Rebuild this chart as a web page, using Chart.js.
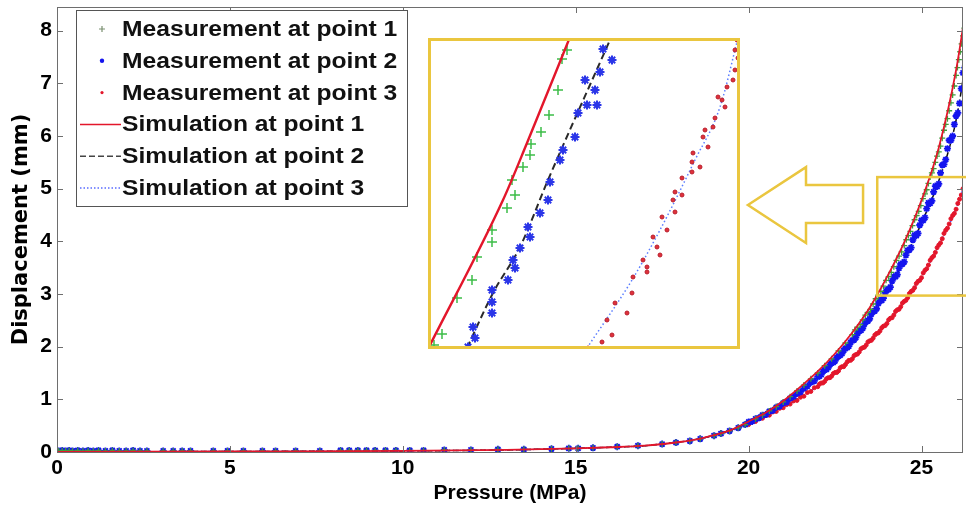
<!DOCTYPE html>
<html>
<head>
<meta charset="utf-8">
<script src="https://cdn.jsdelivr.net/npm/chart.js@4.4.0/dist/chart.umd.min.js"></script>
<style>
html, body { margin: 0; padding: 0; background: #fff; }
#wrap { position: relative; width: 966px; height: 510px; overflow: hidden; }
#main { position: absolute; left: 0; top: 0; }
#zoom { position: absolute; left: 428px; top: 38px; background: #fff; }
</style>
</head>
<body>
<div id="wrap">
  <canvas id="main" width="966" height="510"></canvas>
  <canvas id="zoom" width="312" height="311"></canvas>
</div>
<script>
// axis ticks
var xTicks = [0, 5, 10, 15, 20, 25];
var yTicks = [0, 1, 2, 3, 4, 5, 6, 7, 8];

var seriesNames = ['Measurement at point 1', 'Measurement at point 2', 'Measurement at point 3',
                   'Simulation at point 1', 'Simulation at point 2', 'Simulation at point 3'];

// low pressure part, shared by the three measurements
var lowX = [0.05,0.15,0.25,0.35,0.45,0.6,0.75,0.9,1.05,1.2,1.4,1.6,1.8,2.0,2.2,2.4,2.6,3.07,3.36,3.62,
            3.86,4.52,4.93,5.39,5.94,6.32,6.9,7.6,8.2,8.45,8.7,8.95,9.2,9.5,9.8,10.2,10.6,11.2,11.97,12.75,
            13.5,14.3,14.8,15.07,15.5,16.2,16.8,17.5,17.9,18.3,18.6,19.0,19.2,19.45,19.7,19.9];
var lowY = [0.02,0.03,0.02,0.03,0.02,0.03,0.02,0.03,0.02,0.03,0.02,0.03,0.02,0.02,0.03,0.02,0.02,0.02,0.02,0.02,
            0.02,0.02,0.02,0.02,0.02,0.02,0.02,0.02,0.03,0.03,0.03,0.03,0.03,0.03,0.03,0.03,0.03,0.04,0.04,0.05,
            0.05,0.06,0.07,0.07,0.08,0.1,0.12,0.15,0.18,0.21,0.25,0.31,0.35,0.4,0.46,0.52];

// measurement at point 1 (upper part)
var meas1X = [20.2,20.4,20.6,20.8,21.0,21.2,21.4,21.6,21.8,22.0,22.2,22.4,22.6,22.8,23.0,23.15,23.3,23.45,23.6,23.75,
              23.9,24.05,24.2,24.35,24.5,24.62,24.74,24.86,24.98,25.1,25.2,25.3,25.4,25.5,25.6,25.7,25.8,25.9,26.0,26.08,
              26.16,26.24,26.32,26.4];
var meas1Y = [0.63,0.70,0.78,0.86,0.95,1.05,1.16,1.27,1.39,1.50,1.64,1.77,1.92,2.07,2.23,2.37,2.51,2.65,2.81,2.98,
              3.15,3.33,3.52,3.72,3.92,4.11,4.30,4.49,4.68,4.90,5.10,5.30,5.50,5.70,5.96,6.22,6.48,6.78,7.15,7.45,
              7.75,8.05,8.35,8.60];
var meas1XB = [23.075,23.225,23.375,23.525,23.675,23.825,23.975,24.125,24.275,24.425,24.56,24.68,24.8,24.92,25.04,
               25.15,25.25,25.35,25.45,25.55,25.65,25.75,25.85,25.95,26.04,26.12,26.2,26.28];
var meas1YB = [2.32,2.42,2.60,2.71,2.91,3.05,3.26,3.41,3.64,3.80,4.03,4.19,4.41,4.57,4.81,
               4.98,5.22,5.38,5.62,5.81,6.11,6.33,6.63,6.95,7.30,7.60,7.90,8.20];

// measurements at points 2 and 3 (upper part)
var denseX = [20.0,20.1,20.2,20.3,20.4,20.5,20.6,20.7,20.8,20.9,21.0,21.1,21.2,21.3,21.4,21.5,21.6,21.7,21.8,21.9,
              22.0,22.1,22.2,22.3,22.4,22.5,22.6,22.7,22.8,22.9,23.0,23.1,23.2,23.3,23.4,23.5,23.6,23.7,23.8,23.9,
              24.0,24.1,24.2,24.3,24.4,24.5,24.6,24.7,24.8,24.9,25.0,25.1,25.2,25.3,25.4,25.5,25.6,25.7,25.8,25.9,
              26.0,26.1,26.2,26.3];
var meas2Y = [0.57,0.58,0.63,0.65,0.70,0.71,0.77,0.79,0.85,0.87,0.93,0.95,1.02,1.05,1.11,1.14,1.21,1.25,1.32,1.35,
              1.43,1.47,1.56,1.60,1.69,1.73,1.82,1.87,1.97,2.01,2.12,2.17,2.30,2.35,2.48,2.53,2.67,2.72,2.88,2.92,
              3.08,3.13,3.33,3.37,3.57,3.61,3.83,3.88,4.12,4.15,4.40,4.45,4.73,4.77,5.05,5.09,5.45,5.55,5.92,6.00,
              6.38,6.62,7.20,7.45];
var meas3Y = [0.52,0.57,0.58,0.63,0.64,0.69,0.70,0.76,0.77,0.83,0.84,0.90,0.91,0.97,0.98,1.04,1.06,1.13,1.15,1.22,
              1.24,1.31,1.34,1.41,1.44,1.51,1.54,1.62,1.66,1.74,1.77,1.85,1.90,1.98,2.03,2.11,2.16,2.25,2.30,2.39,
              2.44,2.54,2.60,2.70,2.76,2.86,2.93,3.05,3.12,3.24,3.31,3.45,3.55,3.69,3.79,3.93,4.05,4.21,4.33,4.49,
              4.61,4.80,5.00,5.17];
var midX = [22.05,22.15,22.25,22.35,22.45,22.55,22.65,22.75,22.85,22.95,23.05,23.15,23.25,23.35,23.45,23.55,23.65,23.75,
            23.85,23.95,24.05,24.15,24.25,24.35,24.45,24.55,24.65,24.75,24.85,24.95,25.05,25.15,25.25,25.35,25.45,25.55,
            25.65,25.75,25.85,25.95,26.05,26.15,26.25];
var meas2YB = [1.44,1.53,1.57,1.66,1.70,1.79,1.84,1.93,1.98,2.08,2.13,2.25,2.31,2.43,2.49,2.62,2.68,2.82,
               2.88,3.02,3.09,3.25,3.33,3.49,3.57,3.74,3.84,4.03,4.11,4.31,4.40,4.62,4.72,4.94,5.04,5.30,
               5.46,5.76,5.92,6.22,6.44,6.90,7.30];
var meas3YB = [1.29,1.31,1.39,1.41,1.49,1.51,1.60,1.62,1.71,1.74,1.83,1.86,1.96,1.99,2.09,2.12,2.22,2.26,
               2.36,2.40,2.51,2.55,2.67,2.71,2.83,2.88,3.01,3.07,3.20,3.26,3.40,3.48,3.64,3.72,3.88,3.97,
               4.15,4.25,4.43,4.53,4.72,4.88,5.10];

// simulations
var simX  = [0,5,10,13,15,16,17,18,18.5,19,19.5,20,20.5,21,21.5,22,22.5,23,23.5,24,24.5,25,25.5,26,26.3,26.6];
var sim1Y = [0,0.01,0.02,0.04,0.07,0.09,0.12,0.19,0.24,0.32,0.42,0.58,0.75,0.97,1.24,1.53,1.87,2.27,2.74,3.32,3.98,4.78,5.78,7.25,8.5,9.8];
var sim2Y = [0,0.01,0.02,0.04,0.07,0.09,0.12,0.19,0.24,0.32,0.42,0.56,0.72,0.92,1.15,1.42,1.74,2.1,2.55,3.05,3.65,4.35,5.15,6.3,7.5,8.8];
var sim3Y = [0,0.01,0.02,0.04,0.07,0.09,0.12,0.19,0.24,0.31,0.40,0.53,0.68,0.85,1.03,1.25,1.5,1.78,2.1,2.45,2.85,3.32,3.92,4.62,5.2,5.8];

// magnified view
var inset1X = [24.695,24.67,24.65,24.605,24.565,24.515,24.51,24.475,24.42,24.435,24.395,24.32,24.32,24.245,24.22,24.145,24.07,24.03];
var inset1Y = [4.196,4.16,4.036,3.936,3.868,3.82,3.776,3.728,3.676,3.616,3.564,3.476,3.428,3.368,3.276,3.204,3.06,3.016];
var inset2X = [24.875,24.92,24.86,24.785,24.835,24.795,24.845,24.75,24.735,24.675,24.66,24.61,24.6,24.56,24.5,24.51,24.46,24.425,24.435,24.4,24.32,24.32,24.32,24.225,24.235,24.2];
var inset2Y = [4.2,4.156,4.108,4.076,4.036,3.976,3.976,3.944,3.848,3.796,3.756,3.668,3.596,3.544,3.488,3.448,3.404,3.356,3.324,3.276,3.236,3.188,3.144,3.088,3.044,3.008];
var inset3X = [25.545,25.535,25.55,25.535,25.525,25.495,25.45,25.47,25.485,25.435,25.425,25.385,25.375,25.4,25.325,25.32,25.36,25.32,25.27,25.235,
               25.27,25.225,25.235,25.17,25.195,25.125,25.145,25.16,25.075,25.095,25.095,25.025,25.02,24.935,24.995,24.895,24.92,24.87,24.8];
var inset3Y = [4.236,4.196,4.164,4.116,4.076,4.048,4.008,3.996,3.968,3.924,3.888,3.876,3.848,3.808,3.784,3.748,3.728,3.708,3.684,3.628,
               3.616,3.596,3.548,3.528,3.476,3.448,3.408,3.376,3.356,3.328,3.308,3.288,3.224,3.184,3.144,3.116,3.056,3.028,3.004];
var insetSim1X = [24.0,24.375,24.495,24.71];
var insetSim1Y = [3.0,3.596,3.824,4.248];
var insetSim2X = [24.195,24.325,24.46,24.6,24.91];
var insetSim2Y = [3.004,3.224,3.408,3.676,4.236];
var insetSim3X = [24.795,25.02,25.16,25.335,25.46,25.55];
var insetSim3Y = [3.004,3.276,3.476,3.756,3.968,4.244];

function pts(xs, ys) {
    return xs.map(function (x, i) { return {x: x, y: ys[i]}; });
}

var GREEN = '#3f9e3c', BLUE = '#1414ee', RED = '#e3162b', YELLOW = '#eac63f';
var tickFont = {family: '"Liberation Sans", Arial, sans-serif', size: 21, weight: 'bold'};

var frame = {
    id: 'frame',
    afterDraw: function (chart) {
        var ctx = chart.ctx, a = chart.chartArea, sx = chart.scales.x, sy = chart.scales.y;
        ctx.save();
        // axes box + inward ticks
        ctx.strokeStyle = '#6e6e6e';
        ctx.lineWidth = 1;
        ctx.strokeRect(a.left + 0.5, a.top + 0.5, a.right - a.left - 1, a.bottom - a.top);
        ctx.beginPath();
        xTicks.forEach(function (v) {
            var p = Math.round(sx.getPixelForValue(v)) + 0.5;
            ctx.moveTo(p, a.bottom); ctx.lineTo(p, a.bottom - 6);
            ctx.moveTo(p, a.top); ctx.lineTo(p, a.top + 6);
        });
        yTicks.forEach(function (v) {
            var p = Math.round(sy.getPixelForValue(v)) + 0.5;
            ctx.moveTo(a.left, p); ctx.lineTo(a.left + 6, p);
            ctx.moveTo(a.right, p); ctx.lineTo(a.right - 6, p);
        });
        ctx.stroke();

        // zoomed region and arrow
        ctx.strokeStyle = YELLOW;
        ctx.lineWidth = 2.5;
        var bx = sx.getPixelForValue(23.72), by = sy.getPixelForValue(5.22);
        ctx.strokeRect(bx, by, sx.getPixelForValue(27.5) - bx, sy.getPixelForValue(2.97) - by);
        var arrow = [[19.98, 4.69], [21.66, 5.41], [21.66, 5.07], [23.31, 5.07],
                     [23.31, 4.35], [21.66, 4.35], [21.66, 3.97]];
        ctx.beginPath();
        arrow.forEach(function (p, i) {
            var X = sx.getPixelForValue(p[0]), Y = sy.getPixelForValue(p[1]);
            if (i === 0) ctx.moveTo(X, Y); else ctx.lineTo(X, Y);
        });
        ctx.closePath();
        ctx.stroke();

        // legend
        var lx = a.left + 19, ly = a.top + 3, lw = 331, lh = 196;
        ctx.fillStyle = '#fff';
        ctx.fillRect(lx, ly, lw, lh);
        ctx.strokeStyle = '#555';
        ctx.lineWidth = 1;
        ctx.strokeRect(lx + 0.5, ly + 0.5, lw, lh);
        ctx.font = 'bold 22px "Liberation Sans", Arial, sans-serif';
        ctx.textBaseline = 'middle';
        seriesNames.forEach(function (name, i) {
            var cy = ly + 19 + i * 31.8, mx = lx + 26;
            ctx.save();
            if (i === 0) {
                ctx.strokeStyle = '#7a8f70'; ctx.lineWidth = 1.2;
                ctx.beginPath(); ctx.moveTo(mx - 3, cy); ctx.lineTo(mx + 3, cy);
                ctx.moveTo(mx, cy - 3); ctx.lineTo(mx, cy + 3); ctx.stroke();
            } else if (i === 1) {
                ctx.fillStyle = BLUE;
                ctx.beginPath(); ctx.arc(mx, cy, 2.2, 0, Math.PI * 2); ctx.fill();
            } else if (i === 2) {
                ctx.fillStyle = RED;
                ctx.beginPath(); ctx.arc(mx, cy, 1.6, 0, Math.PI * 2); ctx.fill();
            } else {
                ctx.lineWidth = 1.5;
                if (i === 3) { ctx.strokeStyle = RED; }
                if (i === 4) { ctx.strokeStyle = '#444'; ctx.setLineDash([6, 3]); }
                if (i === 5) { ctx.strokeStyle = '#5a6cff'; ctx.setLineDash([1.5, 2]); }
                ctx.beginPath(); ctx.moveTo(lx + 4, cy); ctx.lineTo(lx + 45, cy); ctx.stroke();
            }
            ctx.restore();
            ctx.save();
            ctx.translate(lx + 46, cy + 1);
            ctx.scale(1.12, 1);
            ctx.fillStyle = '#111';
            ctx.fillText(name, 0, 0);
            ctx.restore();
        });
        ctx.restore();
    }
};

new Chart(document.getElementById('main').getContext('2d'), {
    type: 'scatter',
    data: {
        datasets: [
            {label: seriesNames[3], data: pts(simX, sim1Y), showLine: true, borderColor: RED, borderWidth: 1.8,
             pointRadius: 0, cubicInterpolationMode: 'monotone', order: 0},
            {label: seriesNames[0], data: pts(lowX, lowY).concat(pts(meas1X, meas1Y), pts(meas1XB, meas1YB)),
             pointStyle: 'cross', pointRadius: 3, borderColor: GREEN, borderWidth: 1.3, order: 1},
            {label: seriesNames[1], data: pts(lowX, lowY).concat(pts(denseX, meas2Y), pts(midX, meas2YB)),
             pointStyle: 'star', pointRadius: 3.5, borderColor: BLUE, backgroundColor: BLUE, borderWidth: 1.8, order: 2},
            {label: seriesNames[4], data: pts(simX, sim2Y), showLine: true, borderColor: '#111', borderWidth: 1.5,
             borderDash: [6, 3], pointRadius: 0, cubicInterpolationMode: 'monotone', order: 3},
            {label: seriesNames[2], data: pts(lowX, lowY).concat(pts(denseX, meas3Y), pts(midX, meas3YB)),
             pointStyle: 'circle', pointRadius: 2, borderColor: RED, backgroundColor: RED, borderWidth: 1, order: 4},
            {label: seriesNames[5], data: pts(simX, sim3Y), showLine: true, borderColor: '#4a5cff', borderWidth: 1.5,
             borderDash: [1.5, 2], pointRadius: 0, cubicInterpolationMode: 'monotone', order: 5}
        ]
    },
    options: {
        responsive: false,
        animation: false,
        layout: {autoPadding: false, padding: {top: 7, right: 3, left: 0, bottom: 0}},
        plugins: {legend: {display: false}, tooltip: {enabled: false}},
        scales: {
            x: {
                type: 'linear', min: 0, max: 26.2,
                grid: {display: false, drawTicks: false},
                border: {display: false},
                ticks: {color: '#000', font: tickFont, padding: 4, maxRotation: 0},
                afterBuildTicks: function (s) { s.ticks = xTicks.map(function (v) { return {value: v}; }); },
                afterFit: function (s) { s.height = 58; s.paddingLeft = 0; s.paddingRight = 0; },
                title: {display: true, text: 'Pressure (MPa)', color: '#000', font: tickFont,
                        padding: {top: 0, bottom: 4}}
            },
            y: {
                type: 'linear', min: 0, max: 8.45,
                grid: {display: false, drawTicks: false},
                border: {display: false},
                ticks: {color: '#000', font: tickFont, padding: 5},
                afterBuildTicks: function (s) { s.ticks = yTicks.map(function (v) { return {value: v}; }); },
                afterFit: function (s) { s.width = 57; s.paddingTop = 0; s.paddingBottom = 0; },
                title: {display: true, text: 'Displacement (mm)', color: '#000',
                        font: {family: '"DejaVu Sans", sans-serif', size: 21, weight: 'bold'},
                        padding: {top: 9, bottom: 0}}
            }
        }
    },
    plugins: [frame]
});

var insetBorder = {
    id: 'insetBorder',
    afterDraw: function (chart) {
        var ctx = chart.ctx;
        ctx.save();
        ctx.strokeStyle = YELLOW;
        ctx.lineWidth = 3;
        ctx.strokeRect(1.5, 1.5, chart.width - 3, chart.height - 3);
        ctx.restore();
    }
};

new Chart(document.getElementById('zoom').getContext('2d'), {
    type: 'scatter',
    data: {
        datasets: [
            {data: pts(insetSim1X, insetSim1Y), showLine: true, borderColor: RED, borderWidth: 2.4,
             pointRadius: 0, cubicInterpolationMode: 'monotone', order: 0},
            {data: pts(inset1X, inset1Y), pointStyle: 'cross', pointRadius: 5, borderColor: '#3dbd48',
             borderWidth: 1.5, order: 1},
            {data: pts(inset2X, inset2Y), pointStyle: 'star', pointRadius: 4.5, borderColor: '#2a35e8',
             backgroundColor: '#2a35e8', borderWidth: 2, order: 2},
            {data: pts(insetSim2X, insetSim2Y), showLine: true, borderColor: '#2a2a2a', borderWidth: 2,
             borderDash: [7, 4], pointRadius: 0, cubicInterpolationMode: 'monotone', order: 3},
            {data: pts(inset3X, inset3Y), pointStyle: 'circle', pointRadius: 2, borderColor: '#b8202e',
             backgroundColor: '#e0303a', borderWidth: 1, order: 4},
            {data: pts(insetSim3X, insetSim3Y), showLine: true, borderColor: '#5a7dff', borderWidth: 1.5,
             borderDash: [1.5, 2.5], pointRadius: 0, cubicInterpolationMode: 'monotone', order: 5}
        ]
    },
    options: {
        responsive: false,
        animation: false,
        layout: {autoPadding: false, padding: 0},
        plugins: {legend: {display: false}, tooltip: {enabled: false}},
        scales: {
            x: {type: 'linear', min: 24.0, max: 25.56, display: false},
            y: {type: 'linear', min: 3.0, max: 4.244, display: false}
        }
    },
    plugins: [insetBorder]
});
</script>
</body>
</html>
